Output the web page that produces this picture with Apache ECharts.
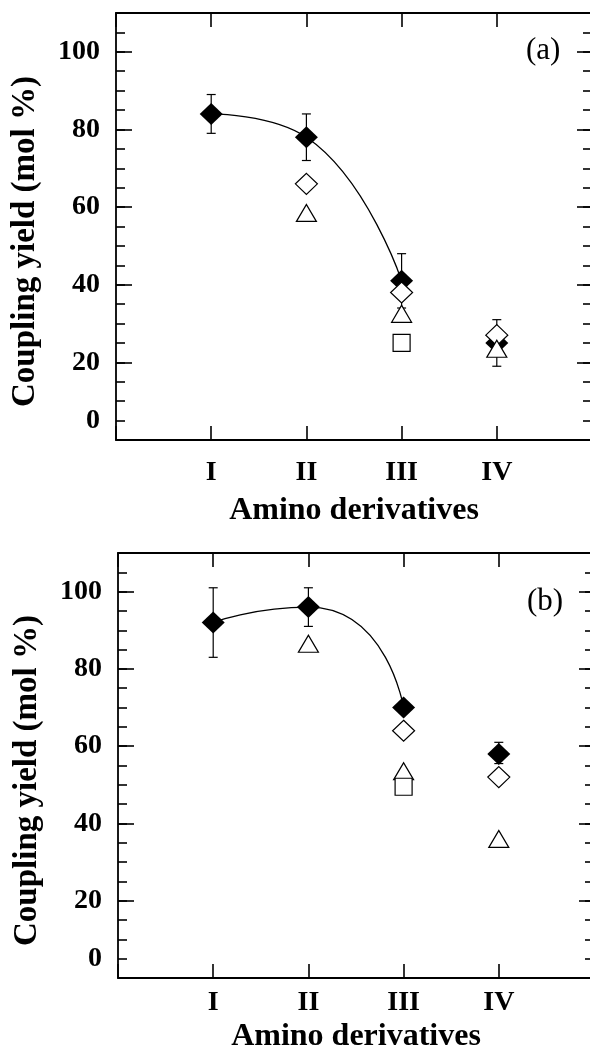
<!DOCTYPE html>
<html>
<head>
<meta charset="utf-8">
<script src="https://cdn.jsdelivr.net/npm/echarts@6/dist/echarts.min.js"></script>
<style>
html, body { margin: 0; padding: 0; background: #fff; }
#chart { width: 590px; height: 1049px; }
</style>
</head>
<body>
<div id="chart"></div>
<script>
// 横轴类别 (氨基衍生物)
var derivatives = ['I', 'II', 'III', 'IV'];
// 纵轴刻度: 原图的 "0" 标在 5 的刻度上
var yLabelPos = [5, 20, 40, 60, 80, 100];
var yLabelText = ['0', '20', '40', '60', '80', '100'];

// (a)
var aFilled = [84, 78, 41, 25];
var aErrLow = [79, 72, 34, 19];
var aErrHigh = [89, 84, 48, 31];
var aOpenDiamond = [null, 66, 38, 27];
var aTriangle = [null, 58.5, 32.5, 23.5];
var aSquare = [null, null, 25, null];

// (b)
var bFilled = [92, 96, 70, 58];
var bErrLow = [83, 91, null, 55.5];
var bErrHigh = [101, 101, null, 61];
var bOpenDiamond = [null, null, 64, 52];
var bTriangle = [null, 86.5, 53.5, 36];
var bSquare = [null, null, 49.5, null];

var FONT = 'Liberation Serif';

(function () {
    var myChart = echarts.init(document.getElementById('chart'));

    // 数组 -> [x, y] 点
    function pts(arr) {
        var out = [];
        arr.forEach(function (v, i) {
            if (v !== null) out.push([i + 1, v]);
        });
        return out;
    }

    function errPts(lo, hi) {
        var out = [];
        lo.forEach(function (v, i) {
            if (v !== null && hi[i] !== null) out.push([i + 1, v, hi[i]]);
        });
        return out;
    }

    // 误差棒
    function renderErr(params, api) {
        var x = api.value(0);
        var top = api.coord([x, api.value(2)]);
        var bot = api.coord([x, api.value(1)]);
        var w = 4.5;
        var st = { stroke: '#000', lineWidth: 1.2 };
        return {
            type: 'group',
            children: [
                { type: 'line', shape: { x1: top[0], y1: top[1], x2: bot[0], y2: bot[1] }, style: st },
                { type: 'line', shape: { x1: top[0] - w, y1: top[1], x2: top[0] + w, y2: top[1] }, style: st },
                { type: 'line', shape: { x1: bot[0] - w, y1: bot[1], x2: bot[0] + w, y2: bot[1] }, style: st }
            ]
        };
    }

    var grids = [];
    var xAxes = [];
    var yAxes = [];
    var series = [];
    var titles = [];

    var lineBlack = { onZero: false, lineStyle: { color: '#000', width: 1.8 } };
    var tickStyle = { color: '#000', width: 1.6 };

    function addPanel(k, p, d) {
        var g0 = 2 * k, g1 = 2 * k + 1;
        grids.push({ left: p.left, top: p.top, width: 476, height: p.height, outerBoundsMode: 'none' });
        grids.push({ left: p.left, top: p.top, width: 476, height: p.height, outerBoundsMode: 'none' });

        // 下轴
        xAxes.push({
            gridIndex: g0, type: 'value', position: 'bottom', min: 0, max: 5, interval: 1,
            axisLine: lineBlack,
            axisTick: { inside: true, length: 14, lineStyle: tickStyle },
            splitLine: { show: false },
            axisLabel: {
                margin: p.labelMargin, color: '#000', fontFamily: FONT, fontWeight: 'bold', fontSize: 28,
                formatter: function (v) { return derivatives[v - 1] || ''; }
            },
            name: 'Amino derivatives', nameLocation: 'middle', nameGap: p.nameGap,
            nameTextStyle: { color: '#000', fontFamily: FONT, fontWeight: 'bold', fontSize: 32 }
        });
        // 上轴
        xAxes.push({
            gridIndex: g0, type: 'value', position: 'top', min: 0, max: 5, interval: 1,
            axisLine: lineBlack,
            axisTick: { inside: true, length: 14, lineStyle: tickStyle },
            splitLine: { show: false }, axisLabel: { show: false }
        });
        xAxes.push({ gridIndex: g1, type: 'value', min: 0, max: 5, show: false });

        // 左轴: 小刻度 + 标签
        yAxes.push({
            gridIndex: g0, type: 'value', position: 'left', min: 0, max: 110, interval: 5,
            axisLine: lineBlack,
            axisTick: { inside: true, length: 9, lineStyle: tickStyle },
            splitLine: { show: false },
            axisLabel: {
                margin: 16, color: '#000', fontFamily: FONT, fontWeight: 'bold', fontSize: 28,
                formatter: function (v) {
                    var i = yLabelPos.indexOf(v);
                    return i >= 0 ? yLabelText[i] : '';
                }
            },
            name: 'Coupling yield (mol %)', nameLocation: 'middle', nameGap: 74,
            nameTextStyle: {
                color: '#000', fontFamily: FONT, fontWeight: 'bold', fontSize: 33,
                padding: [0, 30, 0, 0]
            }
        });
        // 右轴: 小刻度
        yAxes.push({
            gridIndex: g0, type: 'value', position: 'right', min: 0, max: 110, interval: 5,
            axisLine: lineBlack,
            axisTick: { inside: true, length: 9, lineStyle: tickStyle },
            splitLine: { show: false }, axisLabel: { show: false }
        });
        // 大刻度 (叠加的第二个grid)
        yAxes.push({
            gridIndex: g1, type: 'value', position: 'left', min: 0, max: 110, interval: 20,
            axisLine: { show: false, onZero: false },
            axisTick: { inside: true, length: 16, lineStyle: tickStyle },
            splitLine: { show: false }, axisLabel: { show: false }
        });
        yAxes.push({
            gridIndex: g1, type: 'value', position: 'right', min: 0, max: 110, interval: 20,
            axisLine: { show: false, onZero: false },
            axisTick: { inside: true, length: 15, lineStyle: tickStyle },
            splitLine: { show: false }, axisLabel: { show: false }
        });

        var xi = 3 * k, yi = 4 * k;
        var base = { xAxisIndex: xi, yAxisIndex: yi, silent: true, animation: false };

        series.push(Object.assign({
            type: 'custom', renderItem: renderErr, data: errPts(d.lo, d.hi), z: 1
        }, base));
        // 拟合曲线 (I - III)
        series.push(Object.assign({
            type: 'line', data: pts(d.filled.slice(0, 3)), smooth: p.smooth, symbol: 'none',
            lineStyle: { color: '#000', width: 1.3 }, z: 2
        }, base));
        series.push(Object.assign({
            type: 'scatter', data: pts(d.filled), symbol: 'diamond', symbolSize: [23, 22],
            itemStyle: { color: '#000', opacity: 1 }, z: 3
        }, base));
        var open = { color: '#fff', borderColor: '#000', borderWidth: 1.2, opacity: 1 };
        series.push(Object.assign({
            type: 'scatter', data: pts(d.diamond), symbol: 'diamond', symbolSize: [22, 21],
            itemStyle: open, z: 4
        }, base));
        series.push(Object.assign({
            type: 'scatter', data: pts(d.triangle), symbol: 'triangle', symbolSize: [20, 17],
            itemStyle: open, z: 5
        }, base));
        series.push(Object.assign({
            type: 'scatter', data: pts(d.square), symbol: 'rect', symbolSize: [17, 17],
            itemStyle: open, z: 5
        }, base));

        titles.push({
            text: p.tag, left: p.tagLeft, top: p.tagTop,
            textStyle: { color: '#000', fontFamily: FONT, fontWeight: 'normal', fontSize: 31 }
        });
    }

    addPanel(0, { left: 116, top: 13, height: 427, labelMargin: 19, nameGap: 55, smooth: 0.5, tag: '(a)', tagLeft: 521, tagTop: 30 },
        { filled: aFilled, lo: aErrLow, hi: aErrHigh, diamond: aOpenDiamond, triangle: aTriangle, square: aSquare });
    addPanel(1, { left: 118, top: 553, height: 425, labelMargin: 11, nameGap: 43, smooth: 0.7, tag: '(b)', tagLeft: 522, tagTop: 581 },
        { filled: bFilled, lo: bErrLow, hi: bErrHigh, diamond: bOpenDiamond, triangle: bTriangle, square: bSquare });

    var option = {
        backgroundColor: '#fff',
        animation: false,
        title: titles,
        grid: grids,
        xAxis: xAxes,
        yAxis: yAxes,
        series: series
    };

    myChart.setOption(option);
})();
</script>
</body>
</html>
